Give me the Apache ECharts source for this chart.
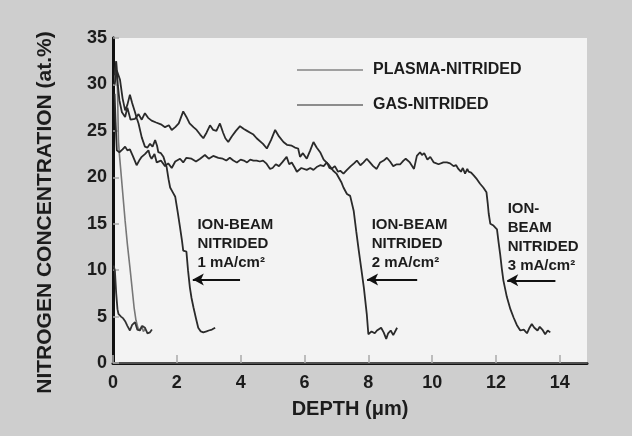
<!DOCTYPE html>
<html>
<head>
<meta charset="utf-8">
<script src="https://cdn.jsdelivr.net/npm/echarts@6/dist/echarts.min.js"></script>
<style>
  html, body { margin: 0; padding: 0; background: #cecece; }
  #main { width: 632px; height: 436px; }
</style>
</head>
<body>
<div id="main"></div>
<script>
// depth (um), nitrogen concentration (at.%)
var plasma = [[0.05,30],[0.1,32.5],[0.14,29.5],[0.17,24],[0.2,22.5],[0.25,20.5],[0.3,18.5],[0.38,15.3],
  [0.45,12.8],[0.53,10.3],[0.6,8.0],[0.66,6.0],[0.72,4.6],[0.78,3.8],[0.84,3.5],[0.9,4.0],[0.95,3.4],[1.02,3.7]];

var gas = [[0.02,10.5],[0.06,9.9],[0.1,7.5],[0.14,5.8],[0.17,5.3],[0.25,5.0],[0.32,4.8],[0.38,4.5],[0.45,4.0],
  [0.53,3.5],[0.6,4.1],[0.69,4.4],[0.76,3.6],[0.84,3.5],[0.92,4.0],[1.0,3.8],[1.08,3.2],[1.16,3.3],[1.22,3.6]];

var ion1 = [[0.05,30],[0.12,31.5],[0.22,30.5],[0.3,28.5],[0.38,27.2],[0.45,27.8],[0.53,28.9],[0.6,28.0],
  [0.69,27.0],[0.75,26.3],[0.8,25.8],[0.9,24.3],[1.0,23.3],[1.08,23.2],[1.16,23.6],[1.24,23.3],[1.32,24.0],
  [1.38,23.4],[1.42,22.7],[1.5,22.6],[1.58,22.2],[1.68,21.1],[1.74,19.8],[1.79,18.9],[1.87,18.4],[1.95,17.9],
  [2.03,16.2],[2.1,14.6],[2.16,13.2],[2.2,12.1],[2.3,12.0],[2.35,10.0],[2.41,8.1],[2.46,7.0],[2.52,6.0],
  [2.6,4.8],[2.67,3.8],[2.75,3.4],[2.83,3.3],[2.93,3.4],[3.0,3.5],[3.1,3.6],[3.2,3.8]];

var ion2 = [[0.05,31],[0.1,32.5],[0.15,30],[0.2,28.3],[0.28,27],[0.38,26.5],[0.45,27.5],[0.55,26.2],[0.69,26.3],
  [0.8,26.8],[0.9,26.2],[1.0,26.9],[1.1,26.4],[1.21,26.1],[1.35,25.9],[1.5,25.7],[1.63,25.4],[1.75,25.6],
  [1.84,25.1],[1.95,25.4],[2.06,25.8],[2.2,27.1],[2.3,26.5],[2.4,25.8],[2.52,25.4],[2.62,25.1],[2.73,24.6],
  [2.83,24.2],[2.93,24.8],[3.04,25.6],[3.14,25.1],[3.24,25.0],[3.35,25.8],[3.45,24.8],[3.52,24.2],[3.61,23.8],
  [3.72,24.4],[3.85,25.0],[3.98,25.5],[4.1,25.2],[4.2,25.0],[4.3,24.8],[4.4,24.6],[4.5,24.2],[4.56,24.1],
  [4.7,23.6],[4.82,23.1],[4.95,24.0],[5.08,25.1],[5.2,24.4],[5.34,23.8],[5.45,23.5],[5.6,23.4],[5.7,23.2],
  [5.8,23.1],[5.86,22.2],[5.95,22.6],[6.07,22.0],[6.18,22.9],[6.28,23.8],[6.38,23.2],[6.49,22.7],[6.6,21.9],
  [6.75,21.4],[6.9,20.7],[7.0,20.4],[7.06,20.2],[7.15,19.5],[7.22,18.9],[7.33,18.2],[7.43,18.0],[7.54,16.4],
  [7.62,14.2],[7.7,12.1],[7.78,10.1],[7.86,8.1],[7.95,5.3],[8.0,3.1],[8.1,3.4],[8.2,3.2],[8.27,3.5],[8.4,3.8],
  [8.48,3.3],[8.56,2.6],[8.62,3.2],[8.7,3.5],[8.78,3.0],[8.9,3.8]];

var ion3 = [[0.05,29],[0.08,26],[0.12,22.9],[0.2,22.7],[0.3,23.0],[0.38,23.3],[0.45,22.9],[0.53,23.0],[0.62,22.3],
  [0.74,21.3],[0.82,21.8],[0.9,22.2],[1.0,22.5],[1.11,22.9],[1.16,22.3],[1.21,22.0],[1.3,22.5],[1.37,21.6],
  [1.5,21.8],[1.63,21.2],[1.73,21.5],[1.84,21.0],[1.95,21.7],[2.1,22.0],[2.2,21.6],[2.3,22.1],[2.46,22.0],
  [2.6,21.7],[2.73,22.0],[2.88,22.4],[3.0,22.0],[3.14,22.3],[3.3,22.1],[3.44,22.0],[3.55,21.8],[3.66,22.1],
  [3.77,21.8],[3.88,21.6],[4.0,21.9],[4.1,21.8],[4.2,21.6],[4.3,21.9],[4.4,21.8],[4.5,21.8],[4.6,21.7],
  [4.7,21.8],[4.8,21.5],[4.92,20.9],[5.0,21.0],[5.1,21.4],[5.2,21.2],[5.3,21.6],[5.44,22.2],[5.52,21.4],
  [5.6,21.6],[5.7,21.0],[5.76,20.6],[5.9,21.0],[6.07,20.8],[6.18,21.0],[6.28,20.8],[6.38,21.1],[6.49,21.3],
  [6.6,21.2],[6.7,21.6],[6.78,21.0],[6.85,20.9],[6.95,21.2],[7.05,20.6],[7.12,20.7],[7.22,20.4],[7.33,20.8],
  [7.45,21.2],[7.55,21.5],[7.64,21.8],[7.75,21.3],[7.85,21.6],[7.95,22.0],[8.05,21.6],[8.15,21.2],[8.26,20.9],
  [8.37,21.6],[8.48,21.8],[8.58,22.1],[8.68,21.7],[8.78,21.2],[8.89,21.4],[9.0,21.4],[9.1,21.8],[9.17,22.0],
  [9.3,21.6],[9.43,20.9],[9.52,22.3],[9.62,22.7],[9.68,22.4],[9.75,22.6],[9.85,21.9],[9.94,22.2],[10.05,21.6],
  [10.2,21.4],[10.35,21.6],[10.46,21.6],[10.56,21.5],[10.67,21.2],[10.75,21.3],[10.82,20.9],[10.9,20.6],
  [10.96,21.0],[11.03,20.4],[11.1,20.9],[11.14,20.6],[11.22,20.5],[11.3,20.2],[11.4,19.8],[11.5,19.3],
  [11.6,18.9],[11.7,18.4],[11.74,17.2],[11.77,16.1],[11.82,15.0],[11.92,14.8],[12.03,14.4],[12.08,13.0],
  [12.13,11.7],[12.18,10.2],[12.23,8.9],[12.34,7.1],[12.45,5.8],[12.55,4.9],[12.65,4.1],[12.76,3.5],
  [12.87,3.6],[12.97,3.2],[13.05,3.8],[13.12,4.2],[13.2,3.8],[13.3,3.5],[13.37,3.9],[13.45,3.6],[13.54,3.1],
  [13.62,3.5],[13.7,3.3]];

// annotation labels and arrows: [text x, text y], [arrow from x, to x, y]
var ionLabels = ['1 mA/cm²', '2 mA/cm²', '3 mA/cm²'];
var labelPos = [[2.66, 15.8], [8.12, 15.8], [12.38, 17.6]];
var arrows = [[3.98, 2.5, 9.0], [9.53, 7.96, 9.0], [13.86, 12.35, 8.9]];

var font = 'Liberation Sans, Arial, sans-serif';
var ink = '#1c1c1c';

function ionSeries(name, data, i) {
  var txt = i === 2
    ? 'ION-\nBEAM\nNITRIDED\n' + ionLabels[i]
    : 'ION-BEAM\nNITRIDED\n' + ionLabels[i];
  return {
    name: name,
    type: 'line',
    data: data,
    showSymbol: false,
    lineStyle: { color: '#2a2a2a', width: 1.8 },
    z: 3,
    markPoint: {
      symbol: 'circle',
      symbolSize: 1,
      itemStyle: { color: 'rgba(0,0,0,0)' },
      label: {
        show: true,
        position: [0, 0],
        align: 'left',
        verticalAlign: 'top',
        formatter: txt,
        color: ink,
        fontFamily: font,
        fontWeight: 'bold',
        fontSize: 15,
        lineHeight: 19
      },
      data: [{ coord: labelPos[i] }]
    },
    markLine: {
      silent: true,
      symbol: ['none', 'arrow'],
      symbolSize: [9, 11],
      label: { show: false },
      lineStyle: { color: '#111', width: 2, type: 'solid' },
      data: [[{ coord: [arrows[i][0], arrows[i][2]] }, { coord: [arrows[i][1], arrows[i][2]] }]]
    }
  };
}

var myChart = echarts.init(document.getElementById('main'));

var option = {
  backgroundColor: '#cecece',
  animation: false,
  grid: {
    left: 113, right: 45, top: 38, bottom: 73,
    show: true,
    backgroundColor: '#f3f3f3',
    borderWidth: 0
  },
  legend: {
    orient: 'vertical',
    left: 292,
    top: 57,
    itemWidth: 66,
    itemHeight: 2,
    itemGap: 19,
    icon: 'rect',
    textStyle: { color: ink, fontFamily: font, fontWeight: 'bold', fontSize: 16, lineHeight: 16, padding: [0, 0, 0, 5] },
    data: [
      { name: 'PLASMA-NITRIDED', itemStyle: { color: '#a0a0a0' } },
      { name: 'GAS-NITRIDED', itemStyle: { color: '#8c8c8c' } }
    ]
  },
  xAxis: [{
    type: 'value',
    min: 0,
    max: 14.85,
    interval: 2,
    name: 'DEPTH (μm)',
    nameLocation: 'middle',
    nameGap: 36,
    nameTextStyle: { color: ink, fontFamily: font, fontWeight: 'bold', fontSize: 20 },
    axisLine: { lineStyle: { color: '#111', width: 3 } },
    axisTick: { inside: true, length: 8, lineStyle: { color: '#aaa', width: 1.5 } },
    axisLabel: { color: ink, fontFamily: font, fontWeight: 'bold', fontSize: 18, margin: 11, showMaxLabel: false },
    splitLine: { show: false }
  }, {
    type: 'value', position: 'top', min: 0, max: 1,
    axisLine: { lineStyle: { color: '#666', width: 1.5 } },
    axisTick: { show: false }, axisLabel: { show: false }, splitLine: { show: false }
  }],
  yAxis: [{
    type: 'value',
    min: 0,
    max: 35,
    interval: 5,
    name: 'NITROGEN CONCENTRATION (at.%)',
    nameLocation: 'middle',
    nameGap: 57,
    nameTextStyle: { color: ink, fontFamily: font, fontWeight: 'bold', fontSize: 21, padding: [0, 24, 0, 0] },
    axisLine: { lineStyle: { color: '#3a3a3a', width: 3 } },
    axisTick: { inside: true, length: 6, lineStyle: { color: '#aaa', width: 1.5 } },
    axisLabel: { color: ink, fontFamily: font, fontWeight: 'bold', fontSize: 18, margin: 6 },
    splitLine: { show: false }
  }, {
    type: 'value', position: 'right', min: 0, max: 1,
    axisLine: { show: true, lineStyle: { color: '#111', width: 3 } },
    axisTick: { show: false }, axisLabel: { show: false }, splitLine: { show: false }
  }],
  series: [
    {
      name: 'PLASMA-NITRIDED', type: 'line', data: plasma, showSymbol: false,
      lineStyle: { color: '#777', width: 1.6 }, itemStyle: { color: '#a0a0a0' }
    },
    {
      name: 'GAS-NITRIDED', type: 'line', data: gas, showSymbol: false,
      lineStyle: { color: '#333', width: 1.8 }, itemStyle: { color: '#8c8c8c' }
    },
    ionSeries('ION-BEAM 1', ion1, 0),
    ionSeries('ION-BEAM 2', ion2, 1),
    ionSeries('ION-BEAM 3', ion3, 2)
  ]
};

myChart.setOption(option);
</script>
</body>
</html>
